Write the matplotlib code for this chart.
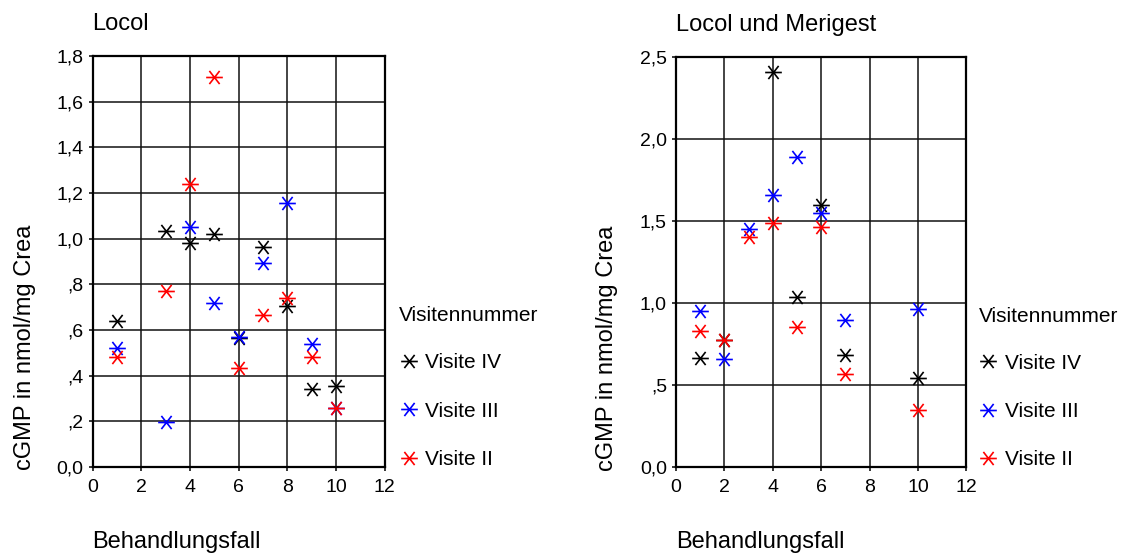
import matplotlib
matplotlib.use("Agg")
import matplotlib.pyplot as plt
import numpy as np
from matplotlib.path import Path
from matplotlib.ticker import FixedLocator, FixedFormatter

plt.rcParams['font.family'] = ['Liberation Sans', 'DejaVu Sans']

# ---- data: Locol ----
l_iv_x = [1, 3, 4, 5, 6, 7, 8, 9, 10]
l_iv_y = [0.64, 1.035, 0.98, 1.02, 0.565, 0.965, 0.705, 0.34, 0.355]
l_iii_x = [1, 3, 4, 5, 6, 7, 8, 9, 10]
l_iii_y = [0.52, 0.195, 1.05, 0.72, 0.57, 0.895, 1.155, 0.54, 0.26]
l_ii_x = [1, 3, 4, 5, 6, 7, 8, 9, 10]
l_ii_y = [0.48, 0.77, 1.24, 1.71, 0.435, 0.665, 0.74, 0.48, 0.26]

# ---- data: Locol und Merigest ----
m_iv_x = [1, 2, 4, 5, 6, 7, 10]
m_iv_y = [0.665, 0.775, 2.405, 1.035, 1.595, 0.68, 0.545]
m_iii_x = [1, 2, 3, 4, 5, 6, 7, 10]
m_iii_y = [0.95, 0.66, 1.45, 1.66, 1.89, 1.545, 0.895, 0.96]
m_ii_x = [1, 2, 3, 4, 5, 6, 7, 10]
m_ii_y = [0.83, 0.775, 1.40, 1.485, 0.85, 1.465, 0.565, 0.345]

series_labels = ["Visite IV", "Visite III", "Visite II"]
series_colors = ["black", "#0000ff", "#ff0000"]

left_yticks = [0.0, 0.2, 0.4, 0.6, 0.8, 1.0, 1.2, 1.4, 1.6, 1.8]
left_yticklabels = ["0,0", ",2", ",4", ",6", ",8", "1,0", "1,2", "1,4", "1,6", "1,8"]
right_yticks = [0.0, 0.5, 1.0, 1.5, 2.0, 2.5]
right_yticklabels = ["0,0", ",5", "1,0", "1,5", "2,0", "2,5"]
xticks = [0, 2, 4, 6, 8, 10, 12]

# custom asterisk marker: horizontal bar + X
ang = np.deg2rad(52)
c, s = np.cos(ang), np.sin(ang)
verts = [(-1, 0), (1, 0), (-c, -s), (c, s), (-c, s), (c, -s)]
codes = [Path.MOVETO, Path.LINETO] * 3
ast = Path(verts, codes)

fig = plt.figure(figsize=(11.24, 5.56), dpi=100)
W, H = 1124, 556

def make_ax(left_px, right_px, top_px, bottom_px):
    return fig.add_axes([left_px / W, 1 - bottom_px / H,
                         (right_px - left_px) / W, (bottom_px - top_px) / H])

ax1 = make_ax(92.5, 384.7, 56, 467.0)
ax2 = make_ax(676, 966.3, 56.7, 467.0)

def style(ax, ylim, yticks, ylabels, title, ylab_x):
    ax.set_xlim(0, 12)
    ax.set_ylim(*ylim)
    ax.xaxis.set_major_locator(FixedLocator(xticks))
    ax.set_xticklabels([str(t) for t in xticks])
    ax.yaxis.set_major_locator(FixedLocator(yticks))
    ax.yaxis.set_major_formatter(FixedFormatter(ylabels))
    ax.grid(True, color='#111111', lw=1.1)
    ax.set_axisbelow(True)
    for sp in ax.spines.values():
        sp.set_linewidth(1.6)
        sp.set_color('black')
    ax.tick_params(axis='both', labelsize=14, length=3, width=1.1,
                   direction='out', colors='black')
    ax.tick_params(axis='x', pad=6.0)
    ax.tick_params(axis='y', pad=3.5)
    ax.set_title(title, loc='left', fontsize=17, pad=18.5)
    ax.set_xlabel("Behandlungsfall", fontsize=17, loc='left', labelpad=25)
    ax.set_ylabel("cGMP in nmol/mg Crea", fontsize=17)
    ax.yaxis.set_label_coords(ylab_x, 0.29)

style(ax1, (0, 1.8), left_yticks, left_yticklabels, "Locol", -0.193)
style(ax2, (0, 2.5), right_yticks, right_yticklabels, "Locol und Merigest", -0.199)

def plot_series(ax, data, anchor_x):
    handles = []
    for (x, y), lab, col in zip(data, series_labels, series_colors):
        h, = ax.plot(x, y, linestyle='none', marker=ast, markersize=12,
                     markeredgewidth=1.2, markeredgecolor=col,
                     markerfacecolor='none', label=lab, clip_on=False)
        handles.append(h)
    leg = ax.legend(handles=handles, title="Visitennummer", loc='upper left',
                    bbox_to_anchor=(anchor_x, 0.391), frameon=False, fontsize=15,
                    title_fontsize=15, alignment='left', borderpad=0,
                    borderaxespad=0, handlelength=0.9, handletextpad=0.35,
                    labelspacing=1.4, markerscale=1.0)
    leg._legend_box.sep = 20.3
    return leg

plot_series(ax1, [(l_iv_x, l_iv_y), (l_iii_x, l_iii_y), (l_ii_x, l_ii_y)], 1.05)
plot_series(ax2, [(m_iv_x, m_iv_y), (m_iii_x, m_iii_y), (m_ii_x, m_ii_y)], 1.043)

fig.savefig("out.png", dpi=100)
